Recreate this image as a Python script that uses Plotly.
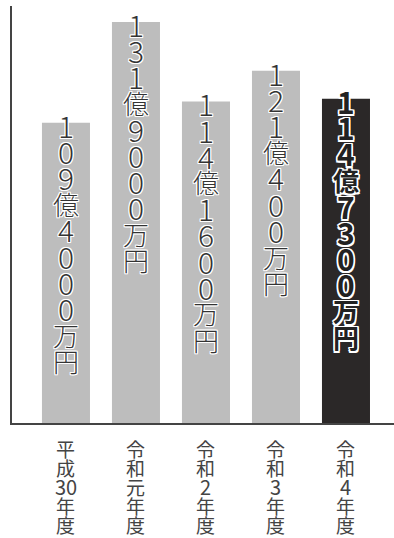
import plotly.graph_objects as go

categories = ["平成30年度", "令和元年度", "令和2年度", "令和3年度", "令和4年度"]
tick_lines = [["平", "成", "30", "年", "度"],
              ["令", "和", "元", "年", "度"],
              ["令", "和", "2", "年", "度"],
              ["令", "和", "3", "年", "度"],
              ["令", "和", "4", "年", "度"]]
values = [109.4, 131.9, 114.16, 121.04, 114.73]  # 億円
value_labels = ["109億4000万円", "131億9000万円", "114億1600万円", "121億400万円", "114億7300万円"]
bar_colors = ["#bdbdbd", "#bdbdbd", "#bdbdbd", "#bdbdbd", "#2b2828"]

FONT = "Noto Sans CJK JP"
xs = list(range(len(categories)))

fig = go.Figure()
fig.add_trace(go.Bar(x=xs, y=values, width=0.686, marker=dict(color=bar_colors, line=dict(width=0)),
                     hoverinfo="skip"))


def outline(w):
    offs = [(w, w), (-w, -w), (w, -w), (-w, w), (0, w), (0, -w), (w, 0), (-w, 0)]
    return ", ".join(f"{a}px {b}px 0 #ffffff" for a, b in offs)


annotations = []
for i, (v, lab) in enumerate(zip(values, value_labels)):
    last = (i == len(values) - 1)
    for j, ch in enumerate(lab):
        is_digit = ch.isdigit()
        annotations.append(dict(
            x=i, y=v, xref="x", yref="y", text=ch, showarrow=False,
            xanchor="center", yanchor="middle", yshift=-2 - 26.2 * j,
            font=dict(family=FONT, size=30 if is_digit else 26,
                      color="#222222" if last else "#333333",
                      weight=700 if last else 300,
                      shadow=outline(1.5 if last else 1))))
for i, lines in enumerate(tick_lines):
    for j, ch in enumerate(lines):
        annotations.append(dict(
            x=i, y=0, xref="x", yref="paper", text=ch, showarrow=False,
            xanchor="center", yanchor="middle", yshift=-25 - 19 * j,
            font=dict(family=FONT, size=20 if ch.isdigit() else 19, color="#444444", weight=400)))

fig.update_layout(
    width=394, height=538,
    margin=dict(l=12, r=0, t=6, b=115),
    paper_bgcolor="white", plot_bgcolor="white",
    showlegend=False, hovermode=False,
    annotations=annotations,
    xaxis=dict(range=[-0.771, 4.686], showgrid=False, zeroline=False, showticklabels=False,
               showline=True, linecolor="#444", linewidth=2, ticks=""),
    yaxis=dict(range=[42.21, 135.5], showgrid=False, zeroline=False, showticklabels=False,
               showline=True, linecolor="#444", linewidth=2, ticks=""),
)
fig.write_html("out.html", config={"displayModeBar": False})
